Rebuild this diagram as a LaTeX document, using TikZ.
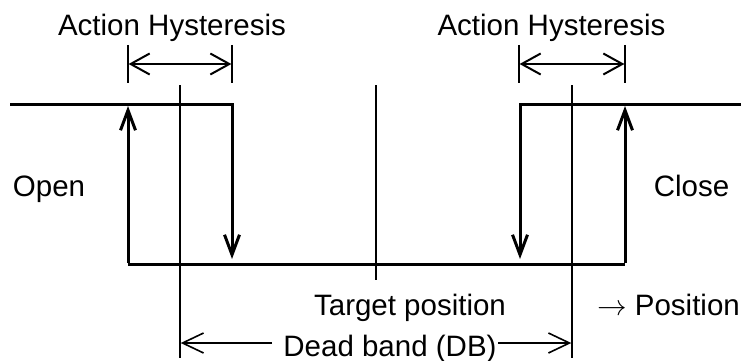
\documentclass[tikz,border=0pt]{standalone}
\usepackage{fontspec}
\setmainfont{Liberation Sans}
\newfontfamily\lmmath{Latin Modern Math}
\usetikzlibrary{arrows.meta}
\tikzset{
  thickline/.style={line width=3pt, line join=miter},
  thinline/.style={line width=1.3pt},
  barbtip/.style={-{Straight Barb[length=20pt,width=15pt,line width=3pt]}},
  hysarrow/.style={line width=2pt, {Straight Barb[length=19pt,width=21pt,line width=2pt]}-{Straight Barb[length=19pt,width=21pt,line width=2pt]}},
  dbarrow/.style={line width=1.6pt, -{Straight Barb[length=21pt,width=20pt,line width=1.6pt]}},
  lbl/.style={inner sep=0pt, anchor=base, font=\fontsize{29.5}{35}\selectfont}
}
\begin{document}
\begin{tikzpicture}[x=1pt,y=-1pt]
\useasboundingbox (0,0) rectangle (741,361);
% coordinates
\coordinate (tl0) at (10,104);
\coordinate (tl1) at (232,104);
\coordinate (tl2) at (232,259);
\coordinate (ua0) at (128,263);
\coordinate (ua1) at (128,106);
\coordinate (b0) at (128,264.5);
\coordinate (b1) at (625,264.5);
\coordinate (tr0) at (741,104);
\coordinate (tr1) at (520,104);
\coordinate (tr2) at (520,259);
\coordinate (ub0) at (625,263);
\coordinate (ub1) at (625,106);
% thin reference lines
\coordinate (v1a) at (180,85);  \coordinate (v1b) at (180,358);
\coordinate (v2a) at (376,85);  \coordinate (v2b) at (376,280);
\coordinate (v3a) at (572,85);  \coordinate (v3b) at (572,358);
\draw[thinline] (v1a) -- (v1b);
\draw[thinline] (v2a) -- (v2b);
\draw[thinline] (v3a) -- (v3b);
% ticks
\coordinate (k1a) at (128,45); \coordinate (k1b) at (128,83);
\coordinate (k2a) at (232,45); \coordinate (k2b) at (232,83);
\coordinate (k3a) at (519,45); \coordinate (k3b) at (519,83);
\coordinate (k4a) at (625,45); \coordinate (k4b) at (625,83);
\draw[thinline] (k1a) -- (k1b);
\draw[thinline] (k2a) -- (k2b);
\draw[thinline] (k3a) -- (k3b);
\draw[thinline] (k4a) -- (k4b);
% hysteresis arrows
\coordinate (h1a) at (128.6,64); \coordinate (h1b) at (231.4,64);
\coordinate (h2a) at (519.6,64); \coordinate (h2b) at (624.4,64);
\draw[hysarrow] (h1a) -- (h1b);
\draw[hysarrow] (h2a) -- (h2b);
% thick characteristic
\draw[thickline, barbtip] (tl0) -- (tl1) -- (tl2);
\draw[thickline, barbtip] (ua0) -- (ua1);
\draw[thickline] (b0) -- (b1);
\draw[thickline, barbtip] (tr0) -- (tr1) -- (tr2);
\draw[thickline, barbtip] (ub0) -- (ub1);
% labels
\node[lbl] (ah1) at (172,36) {Action Hysteresis};
\node[lbl] (ah2) at (551.5,36) {Action Hysteresis};
\node[lbl] (open) at (49,196) {Open};
\node[lbl] (close) at (691.5,196) {Close};
\node[lbl] (target) at (410,315) {Target position};
\node[lbl, anchor=base west] (pos) at (597,315) {{\lmmath →} Position};
\node[lbl] (db) at (390,356) {Dead band (DB)};
% dead band arrows
\coordinate (dbls) at (272,343);
\coordinate (dbrs) at (498,343);
\coordinate (dbl) at (180.7,343);
\coordinate (dbr) at (571.3,343);
\draw[dbarrow] (dbls) -- (dbl);
\draw[dbarrow] (dbrs) -- (dbr);
\end{tikzpicture}
\end{document}
